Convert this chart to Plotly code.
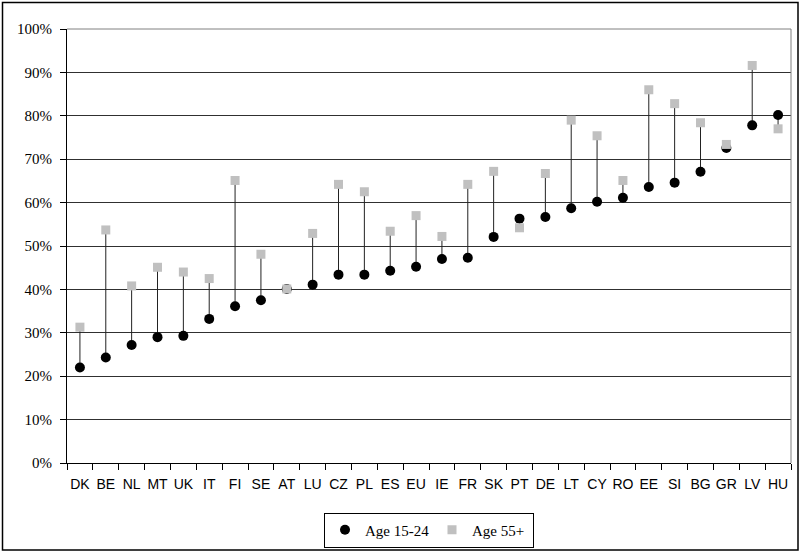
import plotly.graph_objects as go

# Employment-related shares by country, two age groups
countries = ["DK", "BE", "NL", "MT", "UK", "IT", "FI", "SE", "AT", "LU", "CZ", "PL", "ES", "EU",
             "IE", "FR", "SK", "PT", "DE", "LT", "CY", "RO", "EE", "SI", "BG", "GR", "LV", "HU"]
age_15_24 = [0.220, 0.243, 0.272, 0.290, 0.293, 0.332, 0.361, 0.375, 0.401, 0.411, 0.434, 0.434, 0.443,
             0.452, 0.470, 0.473, 0.521, 0.563, 0.567, 0.587, 0.602, 0.611, 0.636, 0.646, 0.671,
             0.726, 0.778, 0.802]
age_55_plus = [0.313, 0.537, 0.408, 0.451, 0.440, 0.425, 0.651, 0.481, 0.401, 0.529, 0.642, 0.625, 0.534,
               0.570, 0.522, 0.642, 0.672, 0.542, 0.667, 0.790, 0.754, 0.651, 0.860, 0.828, 0.784,
               0.734, 0.916, 0.770]
y_ticks = [i / 10 for i in range(11)]

# Vertical connectors between the two age groups
line_x, line_y = [], []
for c, a, b in zip(countries, age_15_24, age_55_plus):
    line_x += [c, c, None]
    line_y += [a, b, None]

fig = go.Figure()
fig.add_trace(go.Scatter(x=line_x, y=line_y, mode="lines", line=dict(color="#222", width=1),
                         showlegend=False, hoverinfo="skip"))
fig.add_trace(go.Scatter(x=countries, y=age_15_24, mode="markers", name="Age 15-24",
                         legendwidth=62,
                         marker=dict(symbol="circle", size=10, color="black")))
fig.add_trace(go.Scatter(x=countries, y=age_55_plus, mode="markers", name="Age 55+",
                         legendwidth=56,
                         marker=dict(symbol="square", size=9, color="#c0c0c0")))

L, R, T, B = 67, 10, 29, 89
W, H = 801, 552
pw, ph = W - L - R, H - T - B

fig.update_layout(
    width=W, height=H,
    margin=dict(l=L, r=R, t=T, b=B, autoexpand=False),
    paper_bgcolor="white", plot_bgcolor="white",
    showlegend=True,
    legend=dict(orientation="h", xref="paper", x=0.5, xanchor="center",
                yref="container", y=22 / H, yanchor="middle",
                bordercolor="black", borderwidth=1,
                font=dict(family="Liberation Serif", size=15, color="black"),
                itemwidth=30, tracegroupgap=0),
    xaxis=dict(type="category", categoryorder="array", categoryarray=countries,
               range=[-0.5, len(countries) - 0.5], tickangle=0,
               tickson="boundaries", ticks="outside", ticklen=6, tickcolor="black",
               ticklabelstandoff=8,
               showgrid=False, showline=True, linecolor="black", linewidth=1,
               tickfont=dict(family="Liberation Sans", size=14, color="black"),
               fixedrange=True),
    yaxis=dict(range=[0, 1], tickvals=y_ticks, tickformat=".0%",
               ticks="outside", ticklen=6, tickcolor="black",
               ticklabelstandoff=5,
               showgrid=True, gridcolor="#303030", gridwidth=1,
               showline=True, linecolor="black", linewidth=1,
               zeroline=False,
               tickfont=dict(family="Liberation Serif", size=15, color="black"),
               fixedrange=True),
    shapes=[
        # plot-area frame on top and right
        dict(type="line", xref="paper", yref="paper", x0=0, x1=1, y0=1, y1=1,
             line=dict(color="#808080", width=1)),
        dict(type="line", xref="paper", yref="paper", x0=1, x1=1, y0=0, y1=1,
             line=dict(color="#808080", width=1)),
        # outer chart border
        dict(type="rect", xref="paper", yref="paper",
             x0=(2.5 - L) / pw, x1=(798 - L) / pw,
             y0=(T + ph - 550) / ph, y1=(T + ph - 2.5) / ph,
             line=dict(color="black", width=1.5), layer="above"),
    ],
)

fig.write_html("out.html")
